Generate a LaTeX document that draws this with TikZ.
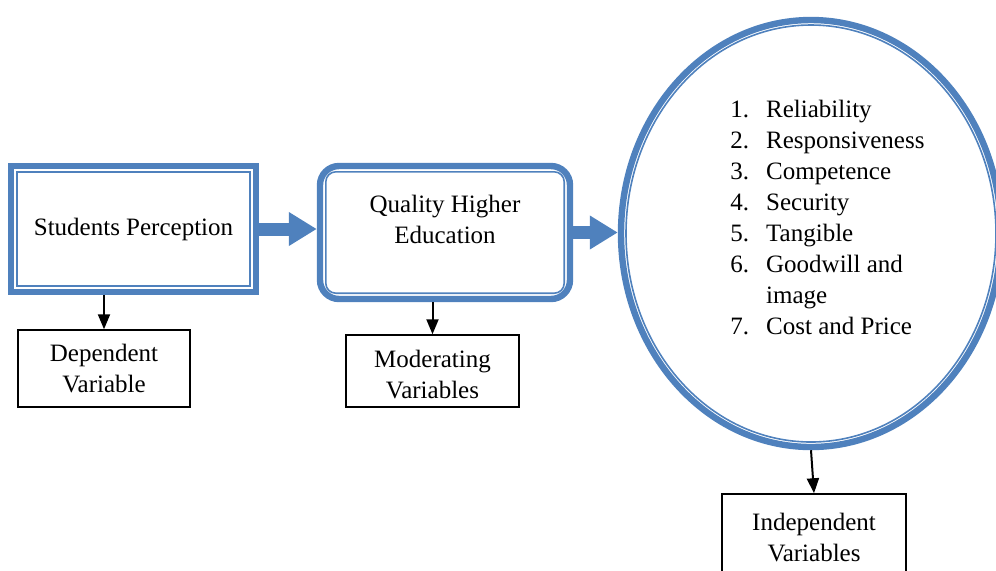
\documentclass[tikz,border=0pt]{standalone}
\usepackage{fontspec}
\setmainfont{Liberation Serif}
\usetikzlibrary{arrows.meta,shapes.geometric}
\definecolor{frameblue}{RGB}{79,129,189}
\begin{document}
\begin{tikzpicture}[x=0.5pt, y=-0.5pt,
    every node/.style={font=\fontsize{12.5}{15.5}\selectfont},
    frame/.style={draw=frameblue, line width=3.2pt, inner sep=0pt},
    innerframe/.style={draw=frameblue, line width=0.8pt},
    varbox/.style={draw, line width=0.75pt, align=center, inner sep=0pt},
    bigarrow/.style={draw=frameblue, line width=6.5pt, -{Triangle[length=14pt, width=16pt]}},
    smallarrow/.style={draw, line width=1pt, -{Triangle[length=7.5pt, width=6pt]}}
  ]
  \useasboundingbox (0,0) rectangle (996,570);

  \node[frame, minimum width=122.5pt, minimum height=63pt] (sp) at (133.5,229) {Students Perception};
  \draw[innerframe] ([shift={(4.5pt,-4.5pt)}]sp.north west) rectangle ([shift={(-4.5pt,4.5pt)}]sp.south east);

  \node[frame, rounded corners=9.5pt, minimum width=125pt, minimum height=66.5pt] (qhe) at (445,232.5) {};
  \draw[innerframe, rounded corners=5pt] ([shift={(4.5pt,-4.5pt)}]qhe.north west) rectangle ([shift={(-4.5pt,4.5pt)}]qhe.south east);
  \node[align=center] (qhetext) at (445,219) {Quality Higher\\Education};

  \node[frame, ellipse, minimum width=190pt, minimum height=213.5pt] (ell) at (811,233.5) {};
  \draw[innerframe] (ell.center) ellipse [x radius=92.5pt, y radius=104.25pt];
  \node[anchor=north west, inner sep=0pt] (list) at (730,95) {\begin{tabular}{@{}l@{\hspace{8.5pt}}l@{}}
    1. & Reliability\\
    2. & Responsiveness\\
    3. & Competence\\
    4. & Security\\
    5. & Tangible\\
    6. & Goodwill and\\
       & image\\
    7. & Cost and Price
  \end{tabular}};

  \node[varbox, minimum width=86pt, minimum height=38.5pt] (dv) at (104,368.5) {Dependent\\Variable};
  \node[varbox, minimum width=86.5pt, minimum height=36pt] (mv) at (432.5,371) {\rule{0pt}{12pt}Moderating\\Variables};
  \node[varbox, minimum width=92pt, minimum height=43pt] (iv) at (814,537) {Independent\\Variables};

  \draw[bigarrow] (sp.east) -- (sp.east -| qhe.west);
  \draw[bigarrow] (qhe.east) -- (qhe.east -| ell.west);
  \draw[smallarrow] (dv.north |- sp.south) -- (dv.north);
  \draw[smallarrow] (mv.north |- qhe.south) -- (mv.north);
  \draw[smallarrow] (ell.south) -- (iv.north);
\end{tikzpicture}
\end{document}
